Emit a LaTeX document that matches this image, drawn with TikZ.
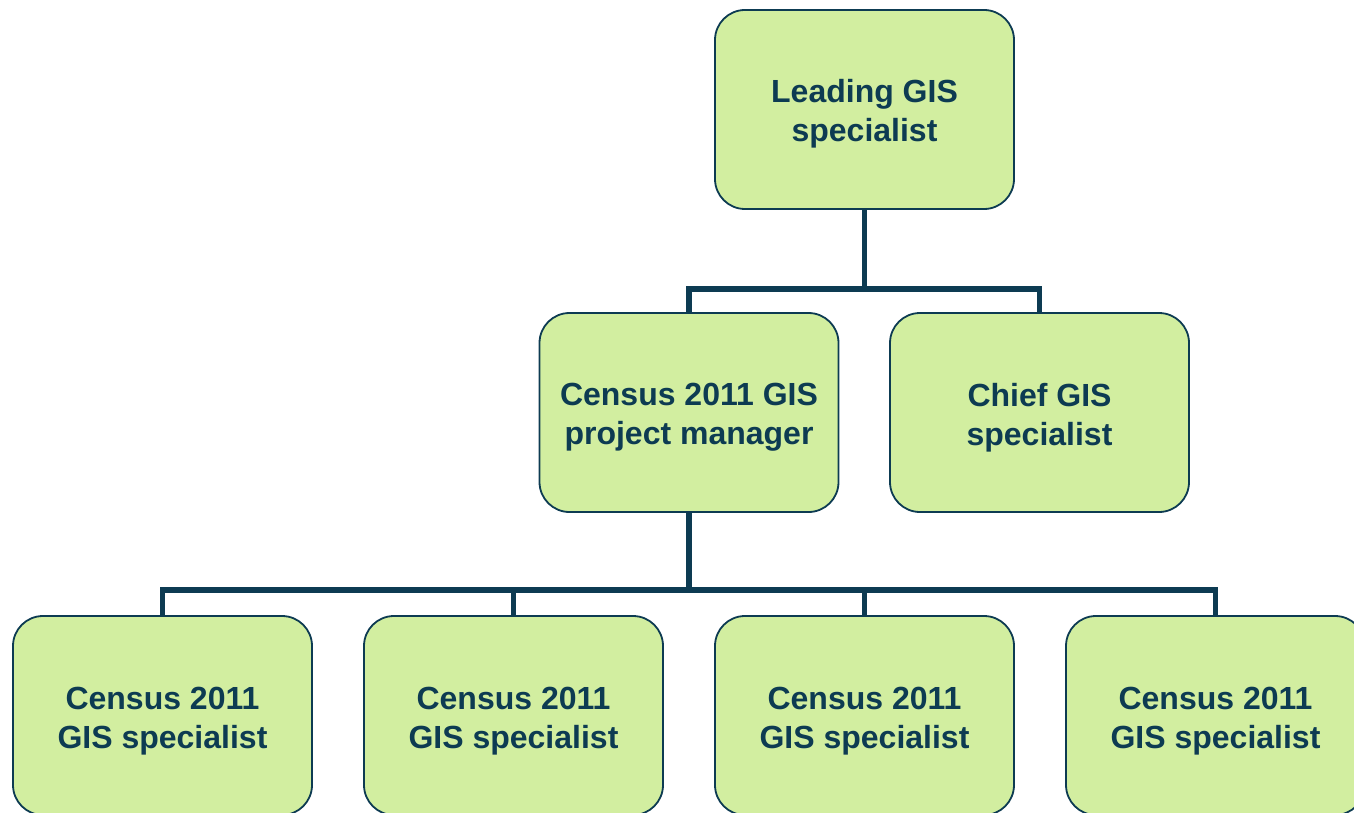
\documentclass[tikz,border=0pt]{standalone}
\usepackage{fontspec}
\setmainfont{Liberation Sans}
\definecolor{dark}{HTML}{0D3B52}
\definecolor{boxfill}{HTML}{D2EEA0}
\begin{document}
\begin{tikzpicture}[x=1pt,y=-1pt,
  box/.style={draw=dark, line width=1.8pt, fill=boxfill, rounded corners=30pt,
    minimum width=299pt, minimum height=199pt, inner sep=0pt},
  txt/.style={inner sep=0pt, align=center, text=dark,
    font=\fontsize{32pt}{39pt}\selectfont\bfseries},
  conn/.style={draw=dark, line width=5.5pt}]
\useasboundingbox (0,0) rectangle (1354,813);
\clip (0,0) rectangle (1354,813);
\node[box] (top) at (864.5,109.5) {};
\node[box] (pm) at (689,412.5) {};
\node[box] (chief) at (1039.5,412.5) {};
\node[box] (s1) at (162.5,715.5) {};
\node[box] (s2) at (513.5,715.5) {};
\node[box] (s3) at (864.5,715.5) {};
\node[box] (s4) at (1215.5,715.5) {};
\node[txt] (ttop) at ([yshift=-4pt]top.center) {Leading GIS\\specialist};
\node[txt] (tpm) at ([yshift=-5pt]pm.center) {Census 2011 GIS\\project manager};
\node[txt] (tchief) at ([yshift=-5pt]chief.center) {Chief GIS\\specialist};
\node[txt] (ts1) at ([yshift=-6pt]s1.center) {Census 2011\\GIS specialist};
\node[txt] (ts2) at ([yshift=-6pt]s2.center) {Census 2011\\GIS specialist};
\node[txt] (ts3) at ([yshift=-6pt]s3.center) {Census 2011\\GIS specialist};
\node[txt] (ts4) at ([yshift=-6pt]s4.center) {Census 2011\\GIS specialist};
\coordinate (j1) at (864.5,289);
\coordinate (j2) at (689,590);
\draw[conn] (top.south) -- (j1);
\draw[conn] (pm.north) |- (j1) -| (chief.north);
\draw[conn] (pm.south) -- (j2);
\draw[conn] (s1.north) |- (j2) -| (s4.north);
\draw[conn] (s2.north) -- (s2.north |- j2);
\draw[conn] (s3.north) -- (s3.north |- j2);
\end{tikzpicture}
\end{document}
